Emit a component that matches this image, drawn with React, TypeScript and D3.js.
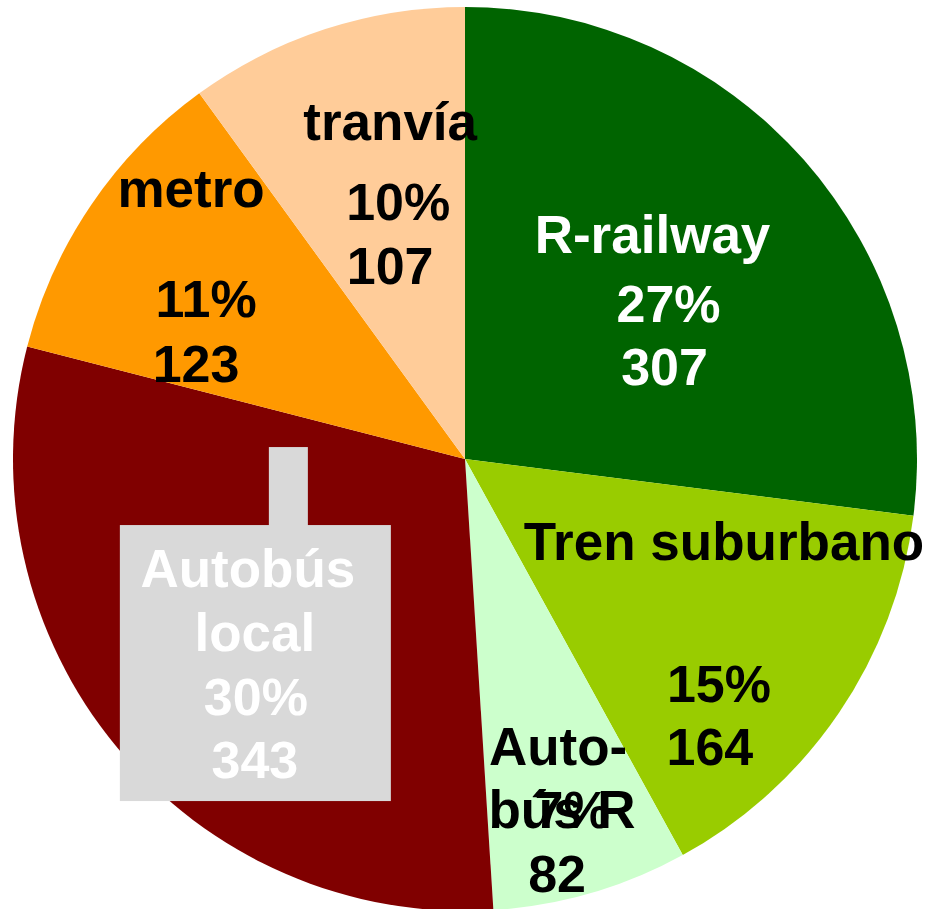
import React from "react";
import * as d3 from "d3";

const categories = ["R-railway", "Tren suburbano", "Autobús R", "Autobús local", "metro", "tranvía"];
const values = [307, 164, 82, 343, 123, 107];
const shares = [27, 15, 7, 30, 11, 10];
const colors = ["#006400", "#99cc00", "#ccffcc", "#800000", "#ff9900", "#ffcc99"];
const textColors = ["#ffffff", "#000000", "#000000", "#ffffff", "#000000", "#000000"];
const nameLines = [["R-railway"], ["Tren suburbano"], ["Auto-", "bús R"], ["Autobús", "local"], ["metro"], ["tranvía"]];

// label layout: offsets relative to slice centroid
const nameOffsets = [
  [[18, -57]],
  [[72, -26]],
  [[30, 89], [34, 152]],
  [[-43, -16], [-36, 48]],
  [[-87, -125]],
  [[-5, -104]],
];
const pctOffsets = [[34, 12], [67, 116], [44, 152], [-35, 112], [-72, -15], [3, -24]];
const valOffsets = [[30, 75], [58, 179], [29, 216], [-36, 175], [-82, 50], [-5, 40]];
const boxOffset = [-171, -78, 271, 276];
const stemOffset = [-22, -156, 39, 80];

const W = 928;
const H = 909;
const CX = 465;
const CY = 459;
const R = 452;
const NAME_FONT = 53;
const NUM_FONT = 52;

export default function App() {
  const pie = d3.pie<number>().sort(null).value((d) => d);
  const arcs = pie(shares);
  const arc = d3.arc<d3.PieArcDatum<number>>().innerRadius(0).outerRadius(R);

  return (
    <svg
      width={W}
      height={H}
      style={{ position: "absolute", left: 0, top: 0, background: "#ffffff" }}
      fontFamily="'Liberation Sans', Arial, sans-serif"
      fontWeight="bold"
    >
      <g transform={`translate(${CX},${CY})`}>
        {arcs.map((a, i) => (
          <path key={categories[i]} d={arc(a) || ""} fill={colors[i]} />
        ))}
        {arcs.map((a, i) => {
          const [cx, cy] = arc.centroid(a);
          const pct = shares[i] + "%";
          const fill = textColors[i];
          const isLocal = categories[i] === "Autobús local";
          return (
            <g key={"l" + i}>
              {isLocal && (
                <g fill="#d9d9d9">
                  <rect x={cx + stemOffset[0]} y={cy + stemOffset[1]} width={stemOffset[2]} height={stemOffset[3]} />
                  <rect x={cx + boxOffset[0]} y={cy + boxOffset[1]} width={boxOffset[2]} height={boxOffset[3]} />
                </g>
              )}
              {nameLines[i].map((t, j) => (
                <text
                  key={j}
                  x={cx + nameOffsets[i][j][0]}
                  y={cy + nameOffsets[i][j][1]}
                  textAnchor="middle"
                  fontSize={NAME_FONT}
                  fill={fill}
                >
                  {t}
                </text>
              ))}
              <text
                x={cx + pctOffsets[i][0]}
                y={cy + pctOffsets[i][1]}
                textAnchor="middle"
                fontSize={NUM_FONT}
                fill={fill}
              >
                {pct}
              </text>
              <text
                x={cx + valOffsets[i][0]}
                y={cy + valOffsets[i][1]}
                textAnchor="middle"
                fontSize={NUM_FONT}
                fill={fill}
              >
                {values[i]}
              </text>
            </g>
          );
        })}
      </g>
    </svg>
  );
}
